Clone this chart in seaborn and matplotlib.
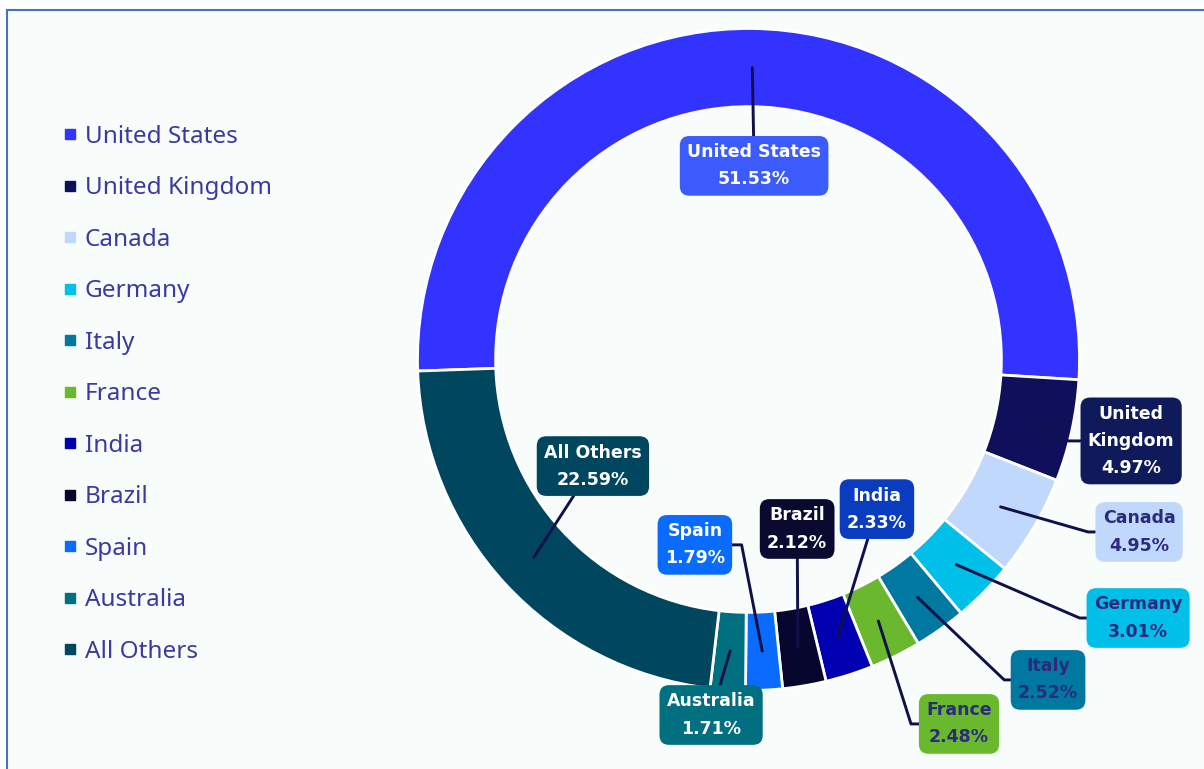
import matplotlib
matplotlib.use("Agg")
import numpy as np
import matplotlib.pyplot as plt
import seaborn as sns
from matplotlib.patches import Rectangle
from matplotlib.lines import Line2D

# ── data ──────────────────────────────────────────────────────────────────────
countries = ["United States", "United Kingdom", "Canada", "Germany", "Italy",
             "France", "India", "Brazil", "Spain", "Australia", "All Others"]
shares = [51.53, 4.97, 4.95, 3.01, 2.52, 2.48, 2.33, 2.12, 1.79, 1.71, 22.59]
box_names = ["United States", "United\nKingdom", "Canada", "Germany", "Italy",
             "France", "India", "Brazil", "Spain", "Australia", "All Others"]

slice_colors = ["#3333ff", "#10105a", "#c0d8fc", "#00c0ea", "#0078a0",
                "#6ab82e", "#0000b0", "#06062e", "#0a6cff", "#007080", "#00465e"]
box_colors = ["#3b5bfd", "#0e1a5a", "#c0d8fc", "#00c0ea", "#0078a0",
              "#6ab82e", "#0a3cc0", "#0a0a30", "#0a6cff", "#007080", "#00465e"]
DARK_TXT = "#2b2b7b"
text_colors = ["white", "white", DARK_TXT, DARK_TXT, DARK_TXT, DARK_TXT,
               "white", "white", "white", "white", "white"]

# label box centres (radius units) and leader elbow angle (None = straight)
label_layout = {
    "United States":  ((0.017, 0.585), None),
    "United Kingdom": ((1.156, -0.246), -28),
    "Canada":         ((1.180, -0.521), -16),
    "Germany":        ((1.177, -0.781), -23.4),
    "Italy":          ((0.905, -0.968), -43.6),
    "France":         ((0.636, -1.101), -72.4),
    "India":          ((0.388, -0.452), None),
    "Brazil":         ((0.147, -0.512), None),
    "Spain":          ((-0.162, -0.560), 101),
    "Australia":      ((-0.113, -1.074), None),
    "All Others":     ((-0.470, -0.322), None),
}

BG = "#f8fcfa"
LINE = "#10104a"
LEGEND_TXT = "#3a3aa0"
RING = 0.236

sns.set_theme(style="white")
plt.rcParams["font.family"] = ["Noto Sans", "DejaVu Sans"]

W, H = 1204, 769
fig = plt.figure(figsize=(W / 100, H / 100), dpi=100)
fig.patch.set_facecolor("white")
fig.patches.append(Rectangle((7 / W, -0.05), 1.1, (H - 10) / H + 0.05,
                             transform=fig.transFigure, facecolor=BG,
                             edgecolor="#4472c4", linewidth=1.5, zorder=-5))

ax = fig.add_axes([0, 0, 1, 1])
ax.set_facecolor("none")

wedges, _ = ax.pie(shares, colors=slice_colors, startangle=182, counterclock=False,
                   radius=1.0, wedgeprops=dict(width=RING, edgecolor="white", linewidth=2))

# 331 px per radius unit, centre at (748.5, 359.5) px
R = 331.0
ax.set_aspect("auto")
ax.set_xlim(-748.5 / R, (W - 748.5) / R)
ax.set_ylim(-(H - 359.5) / R, 359.5 / R)
ax.axis("off")

r_mid = 1 - RING / 2
for w, name, label, val, bc, tc in zip(wedges, countries, box_names, shares,
                                       box_colors, text_colors):
    ang = np.deg2rad((w.theta1 + w.theta2) / 2)
    anchor = (r_mid * np.cos(ang), r_mid * np.sin(ang))
    pos, elbow = label_layout[name]
    conn = "arc3" if elbow is None else f"angle,angleA=0,angleB={elbow},rad=0"
    ax.annotate(f"{label}\n{val:.2f}%", xy=anchor, xytext=pos,
                ha="center", va="center", fontsize=12.5, fontweight="bold",
                family="DejaVu Sans", color=tc, linespacing=1.65,
                bbox=dict(boxstyle="round,pad=0.42,rounding_size=0.55", fc=bc, ec="none"),
                arrowprops=dict(arrowstyle="-", color=LINE, lw=2.1,
                                shrinkA=0, shrinkB=0, connectionstyle=conn))

handles = [Line2D([], [], marker="s", linestyle="none", markersize=7, color=c)
           for c in slice_colors]
leg = fig.legend(handles, countries, loc="upper left",
                 bbox_to_anchor=(60 / W, 1 - 125 / H), frameon=False,
                 fontsize=17.5, labelspacing=1.13, handlelength=0.8,
                 handletextpad=0.22, borderpad=0, borderaxespad=0)
for t in leg.get_texts():
    t.set_color(LEGEND_TXT)

plt.savefig("out.png", dpi=100, facecolor=fig.get_facecolor())
plt.close()
